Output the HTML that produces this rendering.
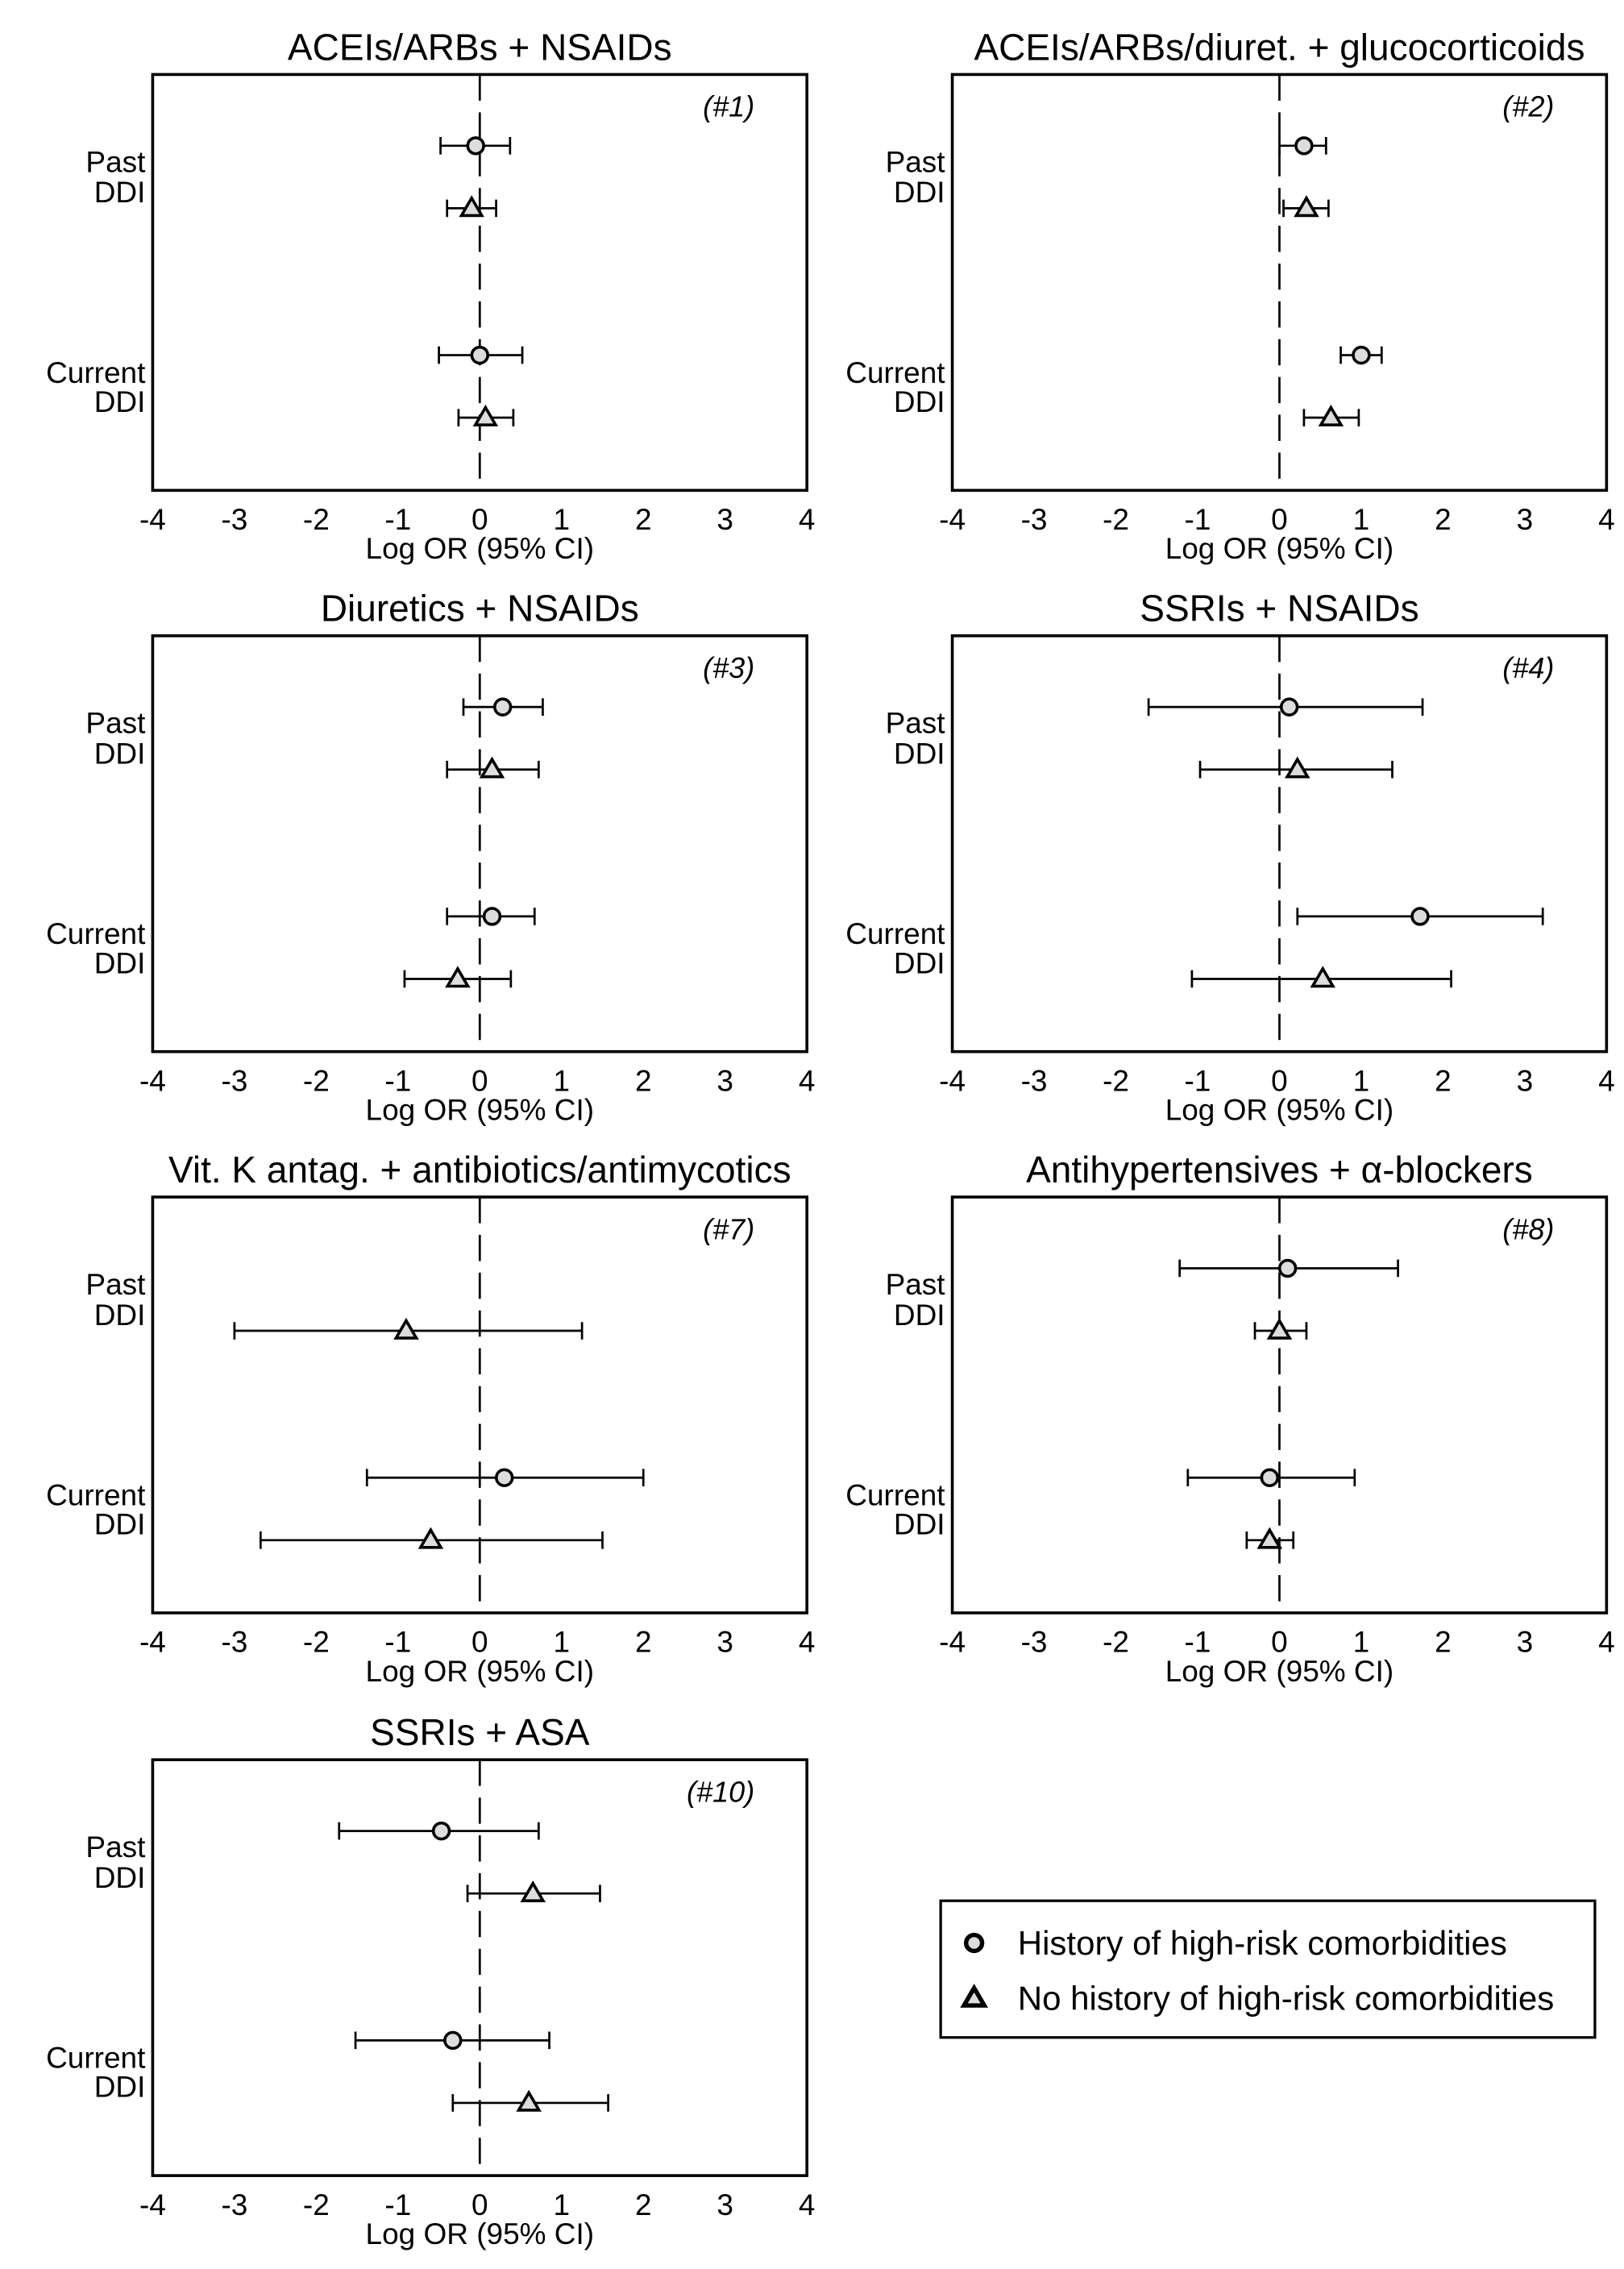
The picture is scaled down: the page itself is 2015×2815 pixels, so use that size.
<!DOCTYPE html>
<html><head><meta charset="utf-8"><style>
html,body{margin:0;padding:0;background:#fff}
svg{display:block}
text{font-family:"Liberation Sans",Arial,sans-serif;fill:#000}
</style></head><body>
<svg id="fig" width="2015" height="2815" viewBox="0 0 1117 1560" xmlns="http://www.w3.org/2000/svg"></svg>
<script>
const panelTitles = ["ACEIs/ARBs + NSAIDs","ACEIs/ARBs/diuret. + glucocorticoids","Diuretics + NSAIDs","SSRIs + NSAIDs","Vit. K antag. + antibiotics/antimycotics","Antihypertensives + α-blockers","SSRIs + ASA"];
const panelIds = ["(#1)","(#2)","(#3)","(#4)","(#7)","(#8)","(#10)"];
const xTicks = [-4,-3,-2,-1,0,1,2,3,4];
// per panel: [est, lo, hi] or null
const pastCircle   = [[-0.05,-0.48,0.37],[0.3,0,0.57],[0.28,-0.2,0.77],[0.12,-1.6,1.75],null,[0.1,-1.22,1.45],[-0.47,-1.72,0.72]];
const pastTriangle = [[-0.1,-0.4,0.2],[0.33,0.05,0.6],[0.15,-0.4,0.72],[0.22,-0.97,1.38],[-0.9,-3.0,1.25],[0,-0.3,0.33],[0.65,-0.15,1.47]];
const curCircle    = [[0,-0.5,0.52],[1.0,0.75,1.25],[0.15,-0.4,0.67],[1.72,0.22,3.22],[0.3,-1.38,2.0],[-0.12,-1.12,0.92],[-0.33,-1.52,0.85]];
const curTriangle  = [[0.07,-0.26,0.41],[0.63,0.3,0.97],[-0.27,-0.92,0.38],[0.53,-1.07,2.1],[-0.6,-2.68,1.5],[-0.12,-0.4,0.17],[0.6,-0.33,1.57]];

const NS="http://www.w3.org/2000/svg";
const svg=document.getElementById('fig');
function mk(tag,attrs,parent){const e=document.createElementNS(NS,tag);for(const k in attrs)e.setAttribute(k,attrs[k]);(parent||svg).appendChild(e);return e;}
const colX=[105,655], rowY=[51,437,823,1210], W=450, H=286;

function circle(g,cx,cy,sw){return mk('circle',{cx:cx,cy:cy,r:5.5,fill:'#ddd',stroke:'#000','stroke-width':sw||2},g);}
function tri(g,cx,cy,sw){return mk('polygon',{points:`${cx},${cy-7} ${cx-7},${cy+5} ${cx+7},${cy+5}`,fill:'#ddd',stroke:'#000','stroke-width':sw||2},g);}

panelTitles.forEach((t,i)=>{
  const bx=colX[i%2], by=rowY[Math.floor(i/2)];
  const xs=v=>bx+(v+4)*W/8;
  const g=mk('g',{});
  
  
  const tt=mk('text',{x:bx+W/2,y:by-10,'font-size':25.5,'text-anchor':'middle'},g);tt.textContent=t;
  
  
  const zl=mk('line',{x1:xs(0),y1:by,x2:xs(0),y2:by+H,stroke:'#000','stroke-width':1.5,'stroke-dasharray':'18,8'},g);
  
  
  const box=mk('rect',{x:bx,y:by,width:W,height:H,fill:'none',stroke:'#000','stroke-width':2},g);
  
  
  const id=mk('text',{x:bx+W-36,y:by+29,'font-size':20,'font-style':'italic','text-anchor':'end'},g);id.textContent=panelIds[i];
  
  
  xTicks.forEach(v=>{const tx=mk('text',{x:xs(v),y:by+H+27,'font-size':20.5,'text-anchor':'middle'},g);tx.textContent=String(v);
    
    });
  const at=mk('text',{x:bx+W/2,y:by+H+47,'font-size':20.5,'text-anchor':'middle'},g);at.textContent='Log OR (95% CI)';
  
  
  [['Past',by+67],['DDI',by+88],['Current',by+212],['DDI',by+232]].forEach(([s,y])=>{
    const l=mk('text',{x:bx-5,y:y,'font-size':20.5,'text-anchor':'end'},g);l.textContent=s;
    
    });
  const series=[[pastCircle,49,'c'],[pastTriangle,92,'t'],[curCircle,193,'c'],[curTriangle,236,'t']];
  series.forEach(([arr,off,shape])=>{
    const d=arr[i]; if(!d) return;
    const y=by+off;
    const ci=mk('path',{d:`M${xs(d[1])},${y}H${xs(d[2])}M${xs(d[1])},${y-6}V${y+6}M${xs(d[2])},${y-6}V${y+6}`,stroke:'#000','stroke-width':1.5,fill:'none'},g);
    
    
    const m=shape==='c'?circle(g,xs(d[0]),y):tri(g,xs(d[0]),y);
    
    
  });
});
// legend
const lg=mk('g',{});


mk('rect',{x:647,y:1307,width:450,height:94,fill:'none',stroke:'#000','stroke-width':1.8},lg);
const lc=circle(lg,670,1336,3);


const t1=mk('text',{x:700,y:1344,'font-size':23.3},lg);t1.textContent='History of high-risk comorbidities';


const lt=tri(lg,670,1374,3);


const t2=mk('text',{x:700,y:1382,'font-size':23.3},lg);t2.textContent='No history of high-risk comorbidities';


</script>
</body></html>
